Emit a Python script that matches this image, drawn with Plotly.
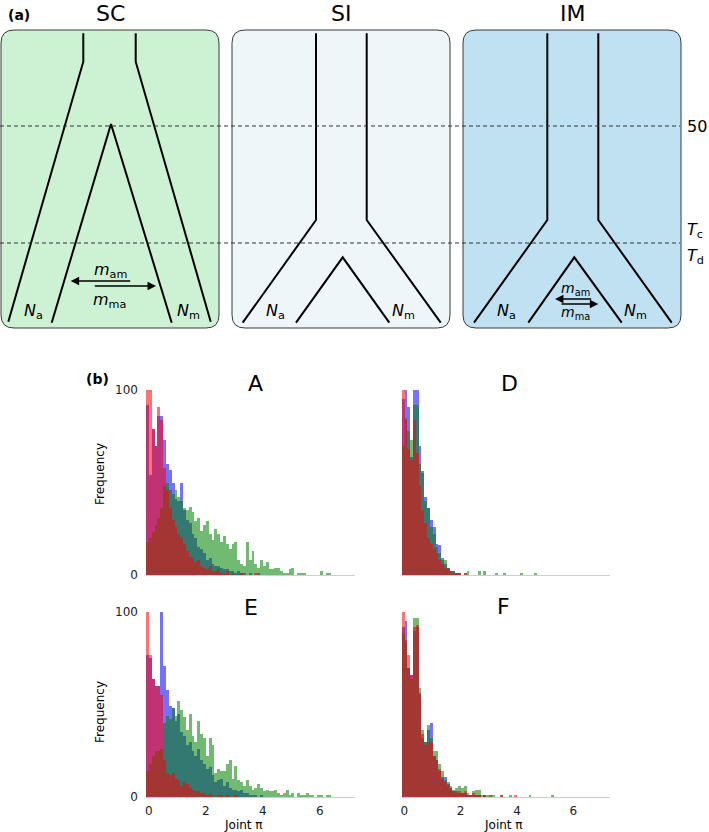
import plotly.graph_objects as go

W, H = 709, 832

# ---------------- histogram data (counts per bin) ----------------
bin_left = -0.1
bin_width = 0.1

A_blue = [92, 54, 79, 70, 86, 86, 73, 60, 57, 50, 41, 40, 50, 35, 30, 28, 22, 20, 15, 14,
          12, 8, 9, 6, 5, 5, 4, 3, 3, 2, 2, 1, 2, 1, 1, 0, 1, 0, 0, 1]
A_green = [18, 20, 23, 27, 31, 36, 48, 50, 46, 44, 46, 42, 40, 36, 35, 37, 34, 29, 31, 24,
           27, 29, 22, 19, 25, 22, 18, 21, 17, 14, 17, 18, 8, 6, 5, 18, 8, 13, 6, 4,
           8, 5, 7, 3, 3, 4, 4, 2, 1, 1, 3, 4, 0, 1, 1, 1, 0, 0, 0, 0,
           0, 2, 0, 1, 1]
A_red = [103, 101, 79, 70, 91, 84, 58, 46, 36, 30, 26, 22, 20, 17, 13, 10, 9, 7, 8, 5,
         4, 3, 5, 2, 2, 3, 1, 1, 2, 0, 1, 0, 0, 1, 0, 0, 0, 0, 1]

D_blue = [95, 101, 91, 64, 103, 103, 70, 56, 42, 36, 30, 26, 17, 16, 9, 6, 4, 2, 2, 1, 1]
D_green = [70, 85, 78, 73, 92, 92, 60, 55, 40, 36, 26, 22, 15, 12, 8, 8, 4, 2, 2, 1,
           1, 0, 1, 2, 0, 0, 0, 2, 0, 2, 0, 0, 0, 1, 0, 0, 1, 0, 0, 0,
           0, 0, 1, 0, 0, 0, 0, 1]
D_red = [103, 84, 68, 62, 84, 66, 48, 35, 28, 20, 17, 14, 12, 8, 6, 4, 3, 2, 1, 1, 1, 0, 1]

E_blue = [77, 75, 64, 60, 60, 103, 71, 58, 49, 48, 41, 45, 35, 33, 28, 30, 25, 22, 26, 20,
          18, 15, 16, 12, 8, 9, 10, 6, 8, 5, 4, 4, 3, 4, 2, 2, 1, 1, 1, 0, 1]
E_green = [14, 18, 22, 25, 25, 26, 40, 44, 42, 48, 44, 52, 47, 43, 36, 45, 33, 30, 41, 34,
           32, 22, 32, 28, 13, 15, 14, 14, 18, 20, 10, 17, 9, 8, 6, 9, 6, 4, 5, 7,
           5, 3, 4, 3, 3, 4, 2, 1, 2, 4, 1, 2, 0, 2, 1, 1, 2, 1, 1, 0,
           1, 1, 0, 1, 1]
E_red = [103, 77, 64, 60, 60, 55, 20, 13, 12, 13, 10, 9, 6, 8, 7, 5, 4, 3, 3, 2,
         2, 1, 2, 1, 0, 1, 1, 0, 1, 0, 0, 1]

F_blue = [92, 95, 70, 66, 90, 92, 56, 32, 30, 36, 40, 22, 20, 14, 11, 11, 7, 5, 3, 3,
          2, 2, 2, 1, 1, 1, 1, 1, 0, 1]
F_green = [88, 84, 70, 64, 97, 97, 59, 36, 30, 39, 32, 25, 25, 18, 14, 9, 8, 6, 4, 5,
           6, 5, 6, 2, 1, 3, 4, 4, 1, 1, 1, 1, 1, 0, 0, 1, 0, 0, 1, 0,
           0, 0, 0, 0, 0, 1, 0, 0, 0, 0, 0, 0, 0, 1]
F_red = [103, 85, 77, 66, 92, 93, 55, 34, 28, 30, 30, 22, 20, 15, 10, 8, 6, 5, 3, 2,
         3, 2, 3, 1, 1, 2, 1, 1, 0, 1, 0, 1, 0, 0, 0, 1, 0, 0, 0, 0, 1]

panel_titles = ["A", "D", "E", "F"]
x_tick_vals = [0, 2, 4, 6]
y_tick_vals = [0, 100]

# ---------------- diagram geometry (panel a, drawing units) ----------------
box_left = [1, 232, 463]
box_right = [219, 450, 681]
box_top, box_bottom = 30, 328
box_fill = ["#cdf1d3", "#eff6fa", "#c0e1f2"]
model_names = ["SC", "SI", "IM"]

outer_left_x = [[83.3, 83.3, 8.3], [316, 316, 242.7], [547.3, 547.3, 474]]
outer_left_y = [[33.3, 61.7, 321.7], [33.3, 220, 322.7], [33.3, 220, 322.7]]
outer_right_x = [[135.7, 135.7, 210.7], [366.7, 366.7, 440.7], [598.3, 598.3, 671.7]]
outer_right_y = outer_left_y
inner_x = [[51.7, 111, 171.7], [296, 342.7, 389.3], [528.3, 574.3, 621.7]]
inner_y = [[322.7, 124, 322.7], [322.7, 257.3, 322.7], [322.7, 257.3, 322.7]]

time_levels = [126, 243]
N_label_x = [[33, 188], [275, 403.3], [506.7, 635]]
N_label_y = 311.7

# migration arrows: (tail_x, tail_y, head_x, head_y)
arrows = [(131.7, 281, 70.7, 281), (93.3, 286, 156, 286),
          (592.7, 299, 555, 299), (560, 304, 598.3, 304)]
m_labels = [(110, 270, 16, "<i>m</i><sub>am</sub>"), (109, 300, 16, "<i>m</i><sub>ma</sub>"),
            (575, 289, 14, "<i>m</i><sub>am</sub>"), (575, 313, 14, "<i>m</i><sub>ma</sub>")]

FONT = "DejaVu Sans"
fig = go.Figure()

# ---------------- histograms ----------------
series_colors = ["rgb(0,0,255)", "rgb(0,128,0)", "rgb(255,0,0)"]
panels = [(A_blue, A_green, A_red), (D_blue, D_green, D_red),
          (E_blue, E_green, E_red), (F_blue, F_green, F_red)]
for i, series in enumerate(panels):
    ax = "" if i == 0 else str(i + 1)
    for vals, col in zip(series, series_colors):
        xs = [bin_left + bin_width * (k + 0.5) for k in range(len(vals))]
        fig.add_trace(go.Bar(x=xs, y=vals, width=bin_width, marker_color=col,
                             marker_line_width=0, opacity=0.55, showlegend=False,
                             xaxis="x" + ax, yaxis="y" + ax, hoverinfo="skip"))

# ---------------- diagram ----------------
for j in range(3):
    for xs, ys in [(outer_left_x[j], outer_left_y[j]), (outer_right_x[j], outer_right_y[j]),
                   (inner_x[j], inner_y[j])]:
        fig.add_trace(go.Scatter(x=xs, y=ys, mode="lines", line=dict(color="black", width=2),
                                 xaxis="x5", yaxis="y5", showlegend=False, hoverinfo="skip"))
for t in time_levels:
    fig.add_trace(go.Scatter(x=[0, 680], y=[t, t], mode="lines",
                             line=dict(color="#333333", width=1, dash="4px,3px"),
                             xaxis="x5", yaxis="y5", showlegend=False, hoverinfo="skip"))

shapes = []
r = 13
for j in range(3):
    x0, x1, y0, y1 = box_left[j], box_right[j], box_top, box_bottom
    path = (f"M {x0+r},{y0} L {x1-r},{y0} Q {x1},{y0} {x1},{y0+r} L {x1},{y1-r} "
            f"Q {x1},{y1} {x1-r},{y1} L {x0+r},{y1} Q {x0},{y1} {x0},{y1-r} "
            f"L {x0},{y0+r} Q {x0},{y0} {x0+r},{y0} Z")
    shapes.append(dict(type="path", path=path, xref="x5", yref="y5", layer="below",
                       fillcolor=box_fill[j], line=dict(color="#3a3a3a", width=1)))

ann = []
def dtext(x, y, text, size, **kw):
    ann.append(dict(x=x, y=y, xref="x5", yref="y5", text=text, showarrow=False,
                    xanchor="center", yanchor="middle",
                    font=dict(family=FONT, size=size, color="black"), **kw))

for j in range(3):
    dtext((box_left[j] + box_right[j]) / 2, 13, model_names[j], 22)
    dtext(N_label_x[j][0], N_label_y, "<i>N</i><sub>a</sub>", 16)
    dtext(N_label_x[j][1], N_label_y, "<i>N</i><sub>m</sub>", 16)
dtext(19, 15, "<b>(a)</b>", 14)
for (x, y, s, t) in m_labels:
    dtext(x, y, t, s)
dtext(697, time_levels[0], "50", 16)
dtext(695, 230, "<i>T</i><sub>c</sub>", 16)
dtext(695, 256, "<i>T</i><sub>d</sub>", 16)
for (tx, ty, hx, hy) in arrows:
    ann.append(dict(x=hx, y=hy, ax=tx, ay=ty, xref="x5", yref="y5", axref="x5", ayref="y5",
                    text="", showarrow=True, arrowhead=2, arrowsize=1.3, arrowwidth=1.3,
                    arrowcolor="black", standoff=0, startstandoff=0))

def ptext(x, y, text, size, **kw):
    ann.append(dict(x=x / W, y=1 - y / H, xref="paper", yref="paper", text=text,
                    showarrow=False, xanchor="center", yanchor="middle",
                    font=dict(family=FONT, size=size, color="black"), **kw))

ptext(97, 379, "<b>(b)</b>", 14)
title_pos = [(255, 383), (509, 383), (251, 607), (503, 606)]
for t, (x, y) in zip(panel_titles, title_pos):
    ptext(x, y, t, 22)
ptext(100, 474, "Frequency", 12, textangle=-90)
ptext(100, 712, "Frequency", 12, textangle=-90)
ptext(243, 825, "Joint π", 12)
ptext(503, 825, "Joint π", 12)

def dx(a, b):
    return [a / W, b / W]

def dy(top, bottom):
    return [1 - bottom / H, 1 - top / H]

tickfont = dict(family=FONT, size=12, color="#222222")
def xax(dom, rng, anchor, labels):
    return dict(domain=dom, range=rng, anchor=anchor, showline=True, linecolor="#cfcfcf",
                linewidth=1, showgrid=False, zeroline=False, ticks="", automargin=False,
                tickvals=x_tick_vals, showticklabels=labels, tickfont=tickfont,
                ticklabelstandoff=3)

def yax(dom, anchor, labels):
    return dict(domain=dom, range=[0, 100], anchor=anchor, showline=False, showgrid=False,
                zeroline=False, ticks="", tickvals=y_tick_vals, showticklabels=labels,
                automargin=False, tickfont=tickfont, ticklabelstandoff=7)

fig.update_layout(
    template="none",
    width=W, height=H, autosize=False, margin=dict(l=0, r=0, t=0, b=0, pad=0),
    paper_bgcolor="white", plot_bgcolor="rgba(0,0,0,0)",
    barmode="overlay", bargap=0, showlegend=False,
    xaxis=xax(dx(146, 355), [-0.1, 7.23], "y", False),
    yaxis=yax(dy(390, 575), "x", True),
    xaxis2=xax(dx(401.7, 610), [-0.09, 7.3], "y2", False),
    yaxis2=yax(dy(390, 575), "x2", False),
    xaxis3=xax(dx(146, 355), [-0.1, 7.23], "y3", True),
    yaxis3=yax(dy(612, 797), "x3", True),
    xaxis4=xax(dx(401.7, 610), [-0.09, 7.3], "y4", True),
    yaxis4=yax(dy(612, 797), "x4", False),
    xaxis5=dict(domain=[0, 1], range=[0, W], anchor="y5", visible=False, fixedrange=True,
                automargin=False),
    yaxis5=dict(domain=dy(0, 335), range=[335, 0], anchor="x5", visible=False,
                fixedrange=True, automargin=False),
    shapes=shapes, annotations=ann,
)

page_fix = ("document.documentElement.style.margin='0px';"
            "document.body.style.margin='0px';document.body.style.padding='0px';"
            "document.documentElement.style.overflow='hidden';"
            "var gd=document.getElementById('{plot_id}');"
            "gd.style.position='fixed';gd.style.top='0px';gd.style.left='0px';")

fig.write_html("out.html", config={"displayModeBar": False}, post_script=page_fix)
